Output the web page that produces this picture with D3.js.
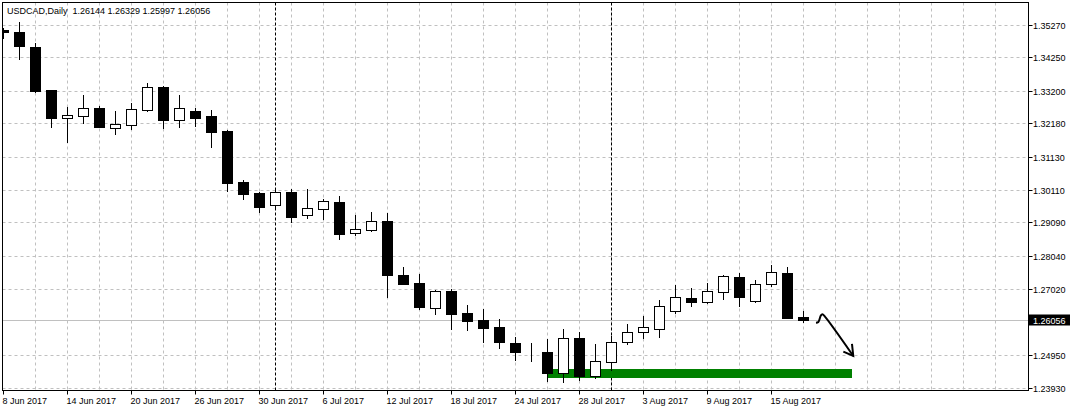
<!DOCTYPE html>
<html>
<head>
<meta charset="utf-8">
<script src="https://cdn.jsdelivr.net/npm/d3@7"></script>
<style>
  html, body { margin: 0; padding: 0; background: #ffffff; }
  svg { display: block; }
  text { font-family: "Liberation Sans", Arial, sans-serif; font-size: 9px; fill: #000; }
</style>
</head>
<body>
<svg id="chart" width="1071" height="412"></svg>
<script>
// ---------- DATA ----------
const symbolTitle = "USDCAD,Daily";
const dates = [
  "2017-06-08","2017-06-09","2017-06-12","2017-06-13","2017-06-14","2017-06-15","2017-06-16",
  "2017-06-19","2017-06-20","2017-06-21","2017-06-22","2017-06-23","2017-06-26","2017-06-27",
  "2017-06-28","2017-06-29","2017-06-30","2017-07-03","2017-07-04","2017-07-05","2017-07-06",
  "2017-07-07","2017-07-10","2017-07-11","2017-07-12","2017-07-13","2017-07-14","2017-07-17",
  "2017-07-18","2017-07-19","2017-07-20","2017-07-21","2017-07-24","2017-07-25","2017-07-26",
  "2017-07-27","2017-07-28","2017-07-31","2017-08-01","2017-08-02","2017-08-03","2017-08-04",
  "2017-08-07","2017-08-08","2017-08-09","2017-08-10","2017-08-11","2017-08-14","2017-08-15",
  "2017-08-16","2017-08-17"
];
const openP = [
  1.35123,1.35042,1.34574,1.33235,1.32377,1.32439,1.32670,1.32065,1.32158,1.32617,1.33335,
  1.32314,1.32577,1.32430,1.31962,1.30370,1.30027,1.29661,1.30048,1.29331,1.29537,1.29736,
  1.28769,1.28881,1.29153,1.27458,1.27218,1.26447,1.26968,1.26281,1.26063,1.25844,1.25345,
  1.25086,1.25064,1.24418,1.25492,1.24324,1.24761,1.25367,1.25679,1.25791,1.26353,1.26740,
  1.26634,1.26946,1.27405,1.26665,1.27177,1.27530,1.26144
];
const highP = [
  1.35186,1.35373,1.34699,1.33241,1.32701,1.33085,1.32742,1.32586,1.32836,1.33460,1.33376,
  1.33085,1.32689,1.32608,1.31983,1.30432,1.30067,1.30167,1.30151,1.30151,1.29839,1.29933,
  1.29340,1.29434,1.29402,1.27708,1.27499,1.26999,1.27030,1.26531,1.26406,1.26085,1.25532,
  1.25345,1.25454,1.25782,1.25688,1.25304,1.25554,1.25947,1.26188,1.26687,1.27165,1.27062,
  1.27218,1.27477,1.27530,1.27321,1.27789,1.27717,1.26329
];
const lowP = [
  1.34855,1.34199,1.33179,1.32097,1.31628,1.32202,1.32080,1.31877,1.32024,1.32586,1.32065,
  1.32086,1.32108,1.31472,1.30098,1.29849,1.29424,1.29543,1.29131,1.29256,1.29215,1.28591,
  1.28716,1.28850,1.26790,1.27186,1.26406,1.26250,1.25782,1.25751,1.25376,1.25198,1.24814,
  1.24783,1.24159,1.24137,1.24200,1.24262,1.24502,1.25323,1.25510,1.25542,1.26291,1.26500,
  1.26593,1.26718,1.26500,1.26634,1.27133,1.26120,1.25997
];
const closeP = [
  1.35042,1.34624,1.33210,1.32377,1.32461,1.32670,1.32086,1.32171,1.32639,1.33335,1.32314,
  1.32670,1.32377,1.31940,1.30348,1.29995,1.29590,1.30048,1.29287,1.29549,1.29768,1.28756,
  1.28894,1.29143,1.27467,1.27196,1.26469,1.26968,1.26259,1.26032,1.25813,1.25376,1.25064,
  1.25086,1.24415,1.25492,1.24315,1.24783,1.25367,1.25688,1.25835,1.26490,1.26771,1.26634,
  1.26959,1.27436,1.26790,1.27186,1.27552,1.26125,1.26056
];
const priceTickLabels = ["1.35270","1.34250","1.33200","1.32180","1.31130","1.30110",
                         "1.29090","1.28040","1.27020","1.24950","1.23930"];
const currentPrice = 1.26056;
const dateLabelIdx = [0,4,8,12,16,20,24,28,32,36,40,44,48];
const separatorIdx = [17,38];               // month starts: 3 Jul, 1 Aug
const zone = { i0: 34, i1: 53, top: 1.24533, bottom: 1.24262 };   // green support zone
const arrowShaft = [[50.78,1.25978],[50.93,1.26000],[51.08,1.26197],[51.18,1.26241],[51.34,1.26166],[53.11,1.24939]];
const arrowHead = [[52.49,1.25073],[53.11,1.24939],[53.03,1.25314]];

// ---------- LAYOUT ----------
const L = 2.5, T = 2.5, R = 1028.5, B = 390.5;
const svg = d3.select("#chart");
const x = d3.scaleLinear().domain([0, 64]).range([3.5, 1027.5]);
const y = d3.scaleLinear().domain([1.23930, 1.35270]).range([388.3, 25]);
const crisp = v => Math.round(v - 0.5) + 0.5;

const data = dates.map((d, i) => ({ i, date: d3.timeParse("%Y-%m-%d")(d),
  o: openP[i], h: highP[i], l: lowP[i], c: closeP[i] }));

svg.append("rect").attr("width", 1071).attr("height", 412).attr("fill", "#fff");

const clip = svg.append("clipPath").attr("id", "plot")
  .append("rect").attr("x", L).attr("y", T).attr("width", R - L).attr("height", B - T);
const plot = svg.append("g").attr("clip-path", "url(#plot)");

// grid - vertical every 2 bars
const vGrid = d3.range(2, 64, 2);
plot.append("g").selectAll("line").data(vGrid).join("line")
  .attr("x1", d => crisp(x(d))).attr("x2", d => crisp(x(d)))
  .attr("y1", T).attr("y2", B)
  .attr("stroke", "#c0c0c0").attr("stroke-dasharray", "3,3");
// grid - horizontal at labelled prices
const priceTicks = priceTickLabels.map(Number);
plot.append("g").selectAll("line").data(priceTicks).join("line")
  .attr("x1", L).attr("x2", R)
  .attr("y1", d => crisp(y(d))).attr("y2", d => crisp(y(d)))
  .attr("stroke", "#c0c0c0").attr("stroke-dasharray", "3,3");

// period separators
plot.append("g").selectAll("line").data(separatorIdx).join("line")
  .attr("x1", d => crisp(x(d))).attr("x2", d => crisp(x(d)))
  .attr("y1", T).attr("y2", B)
  .attr("stroke", "#000").attr("stroke-dasharray", "3,2");

// current price line
plot.append("line").attr("x1", L).attr("x2", R)
  .attr("y1", crisp(y(currentPrice))).attr("y2", crisp(y(currentPrice)))
  .attr("stroke", "#c0c0c0");

// green zone
plot.append("rect")
  .attr("x", Math.round(x(zone.i0))).attr("width", Math.round(x(zone.i1)) - Math.round(x(zone.i0)))
  .attr("y", Math.round(y(zone.top))).attr("height", Math.round(y(zone.bottom)) - Math.round(y(zone.top)))
  .attr("fill", "#008000");

// candles
const cg = plot.append("g");
data.forEach(d => {
  const cx = x(d.i);
  const g = cg.append("g");
  g.append("line").attr("x1", cx).attr("x2", cx)
    .attr("y1", Math.round(y(d.h))).attr("y2", Math.round(y(d.l)) + 1)
    .attr("stroke", "#000").attr("stroke-width", 1);
  const top = Math.round(y(Math.max(d.o, d.c)));
  const bot = Math.round(y(Math.min(d.o, d.c)));
  if (d.c >= d.o) {
    g.append("rect").attr("x", cx - 5).attr("width", 10)
      .attr("y", top + 0.5).attr("height", Math.max(0, bot - top))
      .attr("fill", "#fff").attr("stroke", "#000").attr("stroke-width", 1);
  } else {
    g.append("rect").attr("x", cx - 5.5).attr("width", 11)
      .attr("y", top).attr("height", Math.max(1, bot - top + 1))
      .attr("fill", "#000");
  }
});

// arrow annotation
const line = d3.line().x(d => x(d[0])).y(d => y(d[1]));
plot.append("path").attr("d", line.curve(d3.curveCatmullRom)(arrowShaft))
  .attr("fill", "none").attr("stroke", "#000").attr("stroke-width", 2);
plot.append("path").attr("d", d3.line().x(d => x(d[0])).y(d => y(d[1]))(arrowHead))
  .attr("fill", "none").attr("stroke", "#000").attr("stroke-width", 2);

// frame
svg.append("rect").attr("x", L).attr("y", T).attr("width", R - L).attr("height", B - T)
  .attr("fill", "none").attr("stroke", "#000");

// right price axis
const ya = svg.append("g");
priceTicks.forEach((p, k) => {
  const yy = crisp(y(p));
  ya.append("line").attr("x1", R).attr("x2", R + 4).attr("y1", yy).attr("y2", yy).attr("stroke", "#000");
  ya.append("text").attr("x", 1033).attr("y", yy).attr("dy", "0.35em").text(priceTickLabels[k]);
});
// current price label
const cy = crisp(y(currentPrice));
ya.append("rect").attr("x", 1029).attr("y", cy - 6).attr("width", 41).attr("height", 11).attr("fill", "#000");
ya.append("text").attr("x", 1033).attr("y", cy).attr("dy", "0.35em").style("fill", "#fff")
  .text(d3.format(".5f")(currentPrice));

// bottom date axis
const fmt = d3.timeFormat("%-d %b %Y");
const xa = svg.append("g");
dateLabelIdx.forEach(i => {
  const xx = crisp(x(i));
  xa.append("line").attr("x1", xx).attr("x2", xx).attr("y1", B).attr("y2", B + 4).attr("stroke", "#000");
  xa.append("text").attr("x", xx - 1).attr("y", 403.5).text(fmt(data[i].date));
});

// title
svg.append("text").attr("x", 7).attr("y", 14).style("white-space", "pre")
  .text(symbolTitle + "  " + [openP, highP, lowP, closeP].map(a => d3.format(".5f")(a[a.length - 1])).join(" "));
</script>
</body>
</html>
